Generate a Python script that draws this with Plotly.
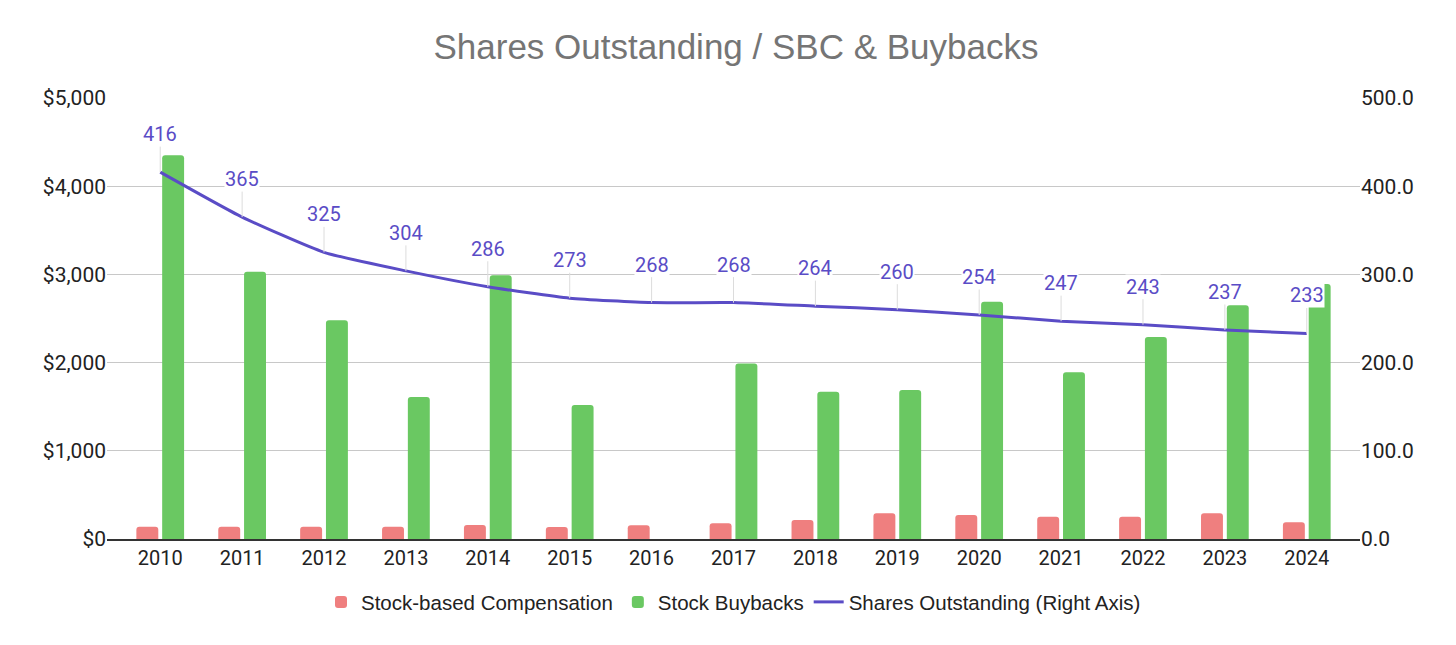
import plotly.graph_objects as go

# values
years = list(range(2010, 2025))
sbc = [140, 140, 140, 140, 160, 136, 155, 178, 215, 291, 272, 253, 253, 291, 189]
buybacks = [4350, 3030, 2480, 1610, 2990, 1520, 0, 1990, 1670, 1690, 2690, 1890, 2290, 2650, 2890]
shares = [416, 365, 325, 304, 286, 273, 268, 268, 264, 260, 254, 247, 243, 237, 233]

left_ticks = [0, 1000, 2000, 3000, 4000, 5000]
right_ticks = [0, 100, 200, 300, 400, 500]

RED = "#EF7F7F"
GREEN = "#6AC862"
PURPLE = "#5A4CC6"
FONT = "Roboto, Liberation Sans, Arial"

fig = go.Figure()
fig.add_trace(go.Bar(
    x=years, y=sbc, name="Stock-based Compensation",
    marker=dict(color=RED, cornerradius=3, line=dict(width=0)),
))
fig.add_trace(go.Bar(
    x=years, y=buybacks, name="Stock Buybacks",
    marker=dict(color=GREEN, cornerradius=3, line=dict(width=0)),
))
fig.add_trace(go.Scatter(
    x=years, y=shares, name="Shares Outstanding (Right Axis)", yaxis="y2",
    mode="lines", line=dict(color=PURPLE, width=3, shape="spline", smoothing=0.5),
))

# data labels with leader lines
for yr, val in zip(years, shares):
    fig.add_annotation(
        x=yr, y=val, xref="x", yref="y2", text=str(val),
        showarrow=True, arrowhead=0, arrowwidth=1, arrowcolor="#dcdcdc",
        ax=0, ay=-38, standoff=0, bgcolor="white", borderpad=0,
        font=dict(family=FONT, size=20, color=PURPLE),
    )

# page body has an 8px margin, so margins are shifted by that
fig.update_layout(
    width=1456, height=645,
    paper_bgcolor="white", plot_bgcolor="white",
    margin=dict(l=99, r=104, t=90, b=114),
    barmode="group", bargap=0.37, bargroupgap=0.15,
    title=dict(
        text="Shares Outstanding / SBC & Buybacks",
        x=0.5, xanchor="center", y=0.9395, yanchor="middle",
        font=dict(family="Liberation Sans, Arial", size=35, color="#757575"),
    ),
    font=dict(family=FONT, size=18, color="#222222"),
    legend=dict(
        orientation="h", x=0.5, xanchor="center", y=-0.143, yanchor="middle",
        font=dict(family="Liberation Sans, Arial", size=20.5, color="#222222"),
        itemwidth=30,
    ),
    xaxis=dict(
        range=[2009.35, 2024.65], tickmode="array", tickvals=years,
        ticktext=[str(y) for y in years], showgrid=False, showline=True,
        linecolor="#333333", linewidth=2, ticks="", tickfont=dict(size=20),
    ),
    yaxis=dict(
        range=[0, 5000], tickmode="array", tickvals=left_ticks,
        ticktext=["${:,}".format(v) for v in left_ticks],
        showgrid=True, gridcolor="#c8c8c8", gridwidth=1, zeroline=False,
        tickfont=dict(size=21), ticks="",
    ),
    yaxis2=dict(
        range=[0, 500], overlaying="y", side="right", tickmode="array",
        tickvals=right_ticks, ticktext=["{:.1f}".format(v) for v in right_ticks],
        showgrid=False, zeroline=False, tickfont=dict(size=21), ticks="",
    ),
)

fig.write_html("out.html")
